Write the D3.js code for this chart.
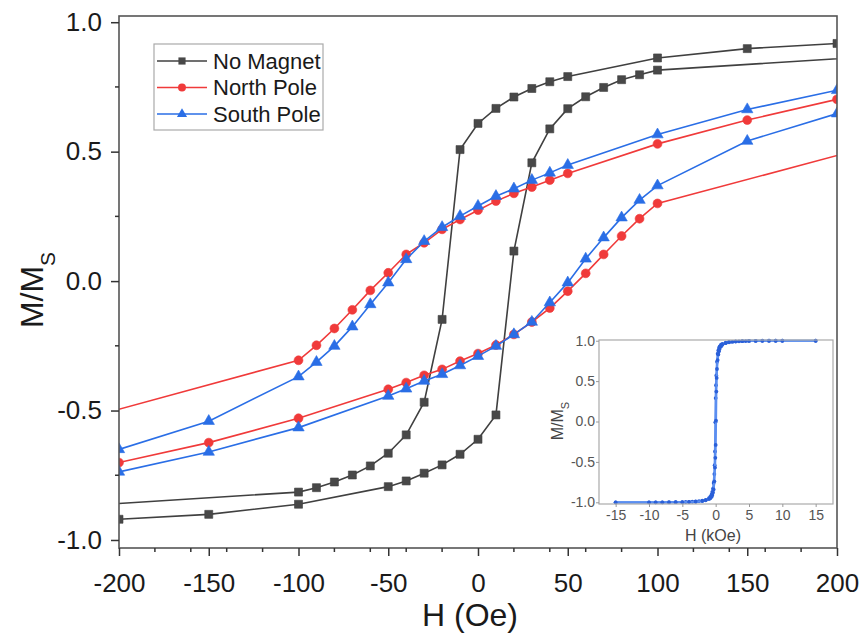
<!DOCTYPE html>
<html><head><meta charset="utf-8">
<script src="https://cdn.jsdelivr.net/npm/d3@7"></script>
<style>
html,body{margin:0;padding:0;background:#fff;}
text{font-family:"Liberation Sans",Arial,sans-serif;}
</style></head>
<body>
<svg id="c" width="863" height="633"></svg>
<script>
// ---------- data (H in Oe, M/Ms) ----------
const noMagDescH = [200,150,100,50,40,30,20,10,0,-10,-20,-30,-40,-50,-60,-70,-80,-90,-100,-500];
const noMagDescM = [0.918,0.898,0.862,0.790,0.770,0.744,0.711,0.667,0.609,0.508,-0.148,-0.468,-0.594,-0.665,-0.714,-0.749,-0.776,-0.798,-0.815,-0.991];
const noMagAscH  = [-200,-150,-100,-50,-40,-30,-20,-10,0,10,20,30,40,50,60,70,80,90,100,500];
const noMagAscM  = [-0.920,-0.901,-0.862,-0.794,-0.772,-0.742,-0.710,-0.669,-0.611,-0.517,0.116,0.457,0.588,0.666,0.712,0.748,0.778,0.797,0.815,0.991];

const northDescH = [200,150,100,50,40,30,20,10,0,-10,-20,-30,-40,-50,-60,-70,-80,-90,-100,-300];
const northDescM = [0.702,0.622,0.530,0.416,0.390,0.363,0.339,0.309,0.274,0.238,0.200,0.148,0.103,0.032,-0.036,-0.111,-0.183,-0.248,-0.306,-0.684];
const northAscH  = [-200,-150,-100,-50,-40,-30,-20,-10,0,10,20,30,40,50,60,70,80,90,100,300];
const northAscM  = [-0.701,-0.624,-0.530,-0.418,-0.392,-0.364,-0.341,-0.309,-0.280,-0.247,-0.206,-0.158,-0.104,-0.039,0.030,0.103,0.174,0.241,0.300,0.670];

const southDescH = [200,150,100,50,40,30,20,10,0,-10,-20,-30,-40,-50,-60,-70,-80,-90,-100,-150,-200];
const southDescM = [0.737,0.663,0.566,0.448,0.418,0.390,0.357,0.328,0.290,0.251,0.208,0.154,0.084,-0.006,-0.090,-0.176,-0.251,-0.313,-0.369,-0.541,-0.650];
const southAscH  = [-200,-150,-100,-50,-40,-30,-20,-10,0,10,20,30,40,50,60,70,80,90,100,150,200];
const southAscM  = [-0.737,-0.660,-0.566,-0.444,-0.416,-0.386,-0.360,-0.326,-0.290,-0.251,-0.206,-0.158,-0.083,-0.006,0.086,0.168,0.245,0.313,0.369,0.541,0.647];

// inset (H in kOe)
const insetDescH = [15,10,9,8,7,6,5,4,3,2,1.5,1,0.8,0.6,0.5,0.4,0.3,0.2,0.1,0.05,0,-0.05,-0.1,-0.15,-0.2,-0.3,-0.4,-0.5,-0.6,-0.8,-1,-1.5,-2,-2.5,-3,-3.5,-4,-4.5,-5,-6,-7,-8,-9,-10,-15];
const insetDescM = [1.0,1.0,1.0,1.0,1.0,0.999,0.998,0.996,0.993,0.985,0.975,0.96,0.95,0.93,0.91,0.88,0.84,0.74,0.57,0.45,0.29,-0.01,-0.37,-0.54,-0.65,-0.76,-0.83,-0.87,-0.90,-0.93,-0.95,-0.97,-0.98,-0.985,-0.99,-0.993,-0.995,-0.996,-0.997,-0.998,-0.999,-1.0,-1.0,-1.0,-1.0];
const insetAscH  = [-15,-10,-9,-8,-7,-6,-5,-4,-3,-2,-1.5,-1,-0.8,-0.6,-0.5,-0.4,-0.3,-0.2,-0.1,-0.05,0,0.05,0.1,0.15,0.2,0.3,0.4,0.5,0.6,0.8,1,1.5,2,2.5,3,3.5,4,4.5,5,6,7,8,9,10,15];
const insetAscM  = [-1.0,-1.0,-1.0,-1.0,-1.0,-0.999,-0.998,-0.996,-0.993,-0.985,-0.975,-0.96,-0.95,-0.93,-0.91,-0.88,-0.84,-0.74,-0.57,-0.45,-0.29,0.01,0.37,0.54,0.65,0.76,0.83,0.87,0.90,0.93,0.95,0.97,0.98,0.985,0.99,0.993,0.995,0.996,0.997,0.998,0.999,1.0,1.0,1.0,1.0];

const seriesNames = ["No Magnet","North Pole","South Pole"];
const xTicks = [-200,-150,-100,-50,0,50,100,150,200];
const yTicks = [-1.0,-0.5,0.0,0.5,1.0];
const insetXTicks = [-15,-10,-5,0,5,10,15];
const insetYTicks = [-1.0,-0.5,0.0,0.5,1.0];

// ---------- chart ----------
const svg = d3.select("#c");
const L=119,R=837,T=16,B=548;
const x = d3.scaleLinear().domain([-200,200]).range([L,R]);
const y = d3.scaleLinear().domain([-1.031,1.024]).range([B,T]);

const series = [
  {name:seriesNames[0], color:"#404040", fill:"#484848", sym:d3.symbolSquare, size:64,
   branches:[[noMagDescH,noMagDescM],[noMagAscH,noMagAscM]]},
  {name:seriesNames[1], color:"#f03a3a", fill:"#f03a3a", sym:d3.symbolCircle, size:62,
   branches:[[northDescH,northDescM],[northAscH,northAscM]]},
  {name:seriesNames[2], color:"#2a6ee6", fill:"#2a6ee6", sym:d3.symbolTriangle, size:56,
   branches:[[southDescH,southDescM],[southAscH,southAscM]]}
];

svg.append("defs").append("clipPath").attr("id","clipMain")
  .append("rect").attr("x",L).attr("y",T).attr("width",R-L).attr("height",B-T);

const line = d3.line().x(d=>x(d[0])).y(d=>y(d[1]));
const plot = svg.append("g").attr("clip-path","url(#clipMain)");
series.forEach(s=>{
  s.branches.forEach(([hs,ms])=>{
    const pts = hs.map((h,i)=>[h,ms[i]]);
    plot.append("path").attr("d",line(pts)).attr("fill","none")
      .attr("stroke",s.color).attr("stroke-width",1.6);
    plot.selectAll(null).data(pts).enter().append("path")
      .attr("d",d3.symbol().type(s.sym).size(s.size)())
      .attr("transform",d=>`translate(${x(d[0])},${y(d[1])})`)
      .attr("fill",s.fill).attr("stroke",s.color).attr("stroke-width",0.6);
  });
});

// frame
svg.append("rect").attr("x",L).attr("y",T).attr("width",R-L).attr("height",B-T)
  .attr("fill","none").attr("stroke","#555").attr("stroke-width",1.6);

// axes
const xAxis = d3.axisBottom(x).tickValues(xTicks).tickSizeInner(8).tickSizeOuter(0).tickPadding(18).tickFormat(d3.format("d"));
const gx = svg.append("g").attr("transform",`translate(0,${B})`).call(xAxis);
const yAxis = d3.axisLeft(y).tickValues(yTicks).tickSizeInner(8).tickSizeOuter(0).tickPadding(9).tickFormat(d3.format(".1f"));
const gy = svg.append("g").attr("transform",`translate(${L},0)`).call(yAxis);
[gx,gy].forEach(g=>{
  g.select(".domain").remove();
  g.selectAll(".tick line").attr("stroke","#333").attr("stroke-width",1.5);
  g.selectAll(".tick text").attr("fill","#1a1a1a").style("font-size","26px")
    .style("font-family","'Liberation Sans',Arial,sans-serif");
});
gy.selectAll(".tick text").text(d=>d3.format(".1f")(d).replace("−","-"));
gx.selectAll(".tick text").text(d=>String(d));
// minor ticks
const xMinor = x.ticks(16).filter(v=>!xTicks.includes(v));
svg.append("g").selectAll("line").data(xMinor).enter().append("line")
  .attr("x1",d=>x(d)).attr("x2",d=>x(d)).attr("y1",B).attr("y2",B+4)
  .attr("stroke","#333").attr("stroke-width",1.5);
const yMinor = [-0.75,-0.25,0.25,0.75];
svg.append("g").selectAll("line").data(yMinor).enter().append("line")
  .attr("y1",d=>y(d)).attr("y2",d=>y(d)).attr("x1",L).attr("x2",L-4)
  .attr("stroke","#333").attr("stroke-width",1.5);

// axis labels
svg.append("text").attr("x",470).attr("y",626).attr("text-anchor","middle")
  .attr("fill","#1a1a1a").style("font-size","32px").text("H (Oe)");
const yl = svg.append("text").attr("transform","translate(43,290) rotate(-90)")
  .attr("text-anchor","middle").attr("fill","#1a1a1a").style("font-size","32px");
yl.append("tspan").text("M/M");
yl.append("tspan").attr("baseline-shift","sub").style("font-size","21px").text("S");

// legend
const lg = svg.append("g");
lg.append("rect").attr("x",154).attr("y",44).attr("width",169).attr("height",86)
  .attr("fill","#fff").attr("stroke","#aaa").attr("stroke-width",1.2);
series.forEach((s,i)=>{
  const cy = 61 + i*26.5;
  lg.append("line").attr("x1",157).attr("x2",207).attr("y1",cy).attr("y2",cy)
    .attr("stroke",s.color).attr("stroke-width",1.6);
  lg.append("path").attr("d",d3.symbol().type(s.sym).size(s.size*0.8)())
    .attr("transform",`translate(182,${cy})`).attr("fill",s.fill);
  lg.append("text").attr("x",213).attr("y",cy+7.5).attr("fill","#1a1a1a")
    .style("font-size","22px").text(s.name);
});

// ---------- inset ----------
const iL=599,iR=833,iT=340,iB=504;
const ix = d3.scaleLinear().domain([-17.5,17.6]).range([iL,iR]);
const iy = d3.scaleLinear().domain([-1.021,1.009]).range([iB,iT]);
svg.append("rect").attr("x",iL).attr("y",iT).attr("width",iR-iL).attr("height",iB-iT)
  .attr("fill","#fff");
svg.append("defs").append("clipPath").attr("id","clipInset")
  .append("rect").attr("x",iL).attr("y",iT-3).attr("width",iR-iL).attr("height",iB-iT+6);
const ip = svg.append("g").attr("clip-path","url(#clipInset)");
const iline = d3.line().x(d=>ix(d[0])).y(d=>iy(d[1]));
[[insetDescH,insetDescM],[insetAscH,insetAscM]].forEach(([hs,ms])=>{
  const pts = hs.map((h,i)=>[h,ms[i]]);
  ip.append("path").attr("d",iline(pts)).attr("fill","none")
    .attr("stroke","#5b8ef0").attr("stroke-width",2.2);
  ip.selectAll(null).data(pts).enter().append("circle")
    .attr("cx",d=>ix(d[0])).attr("cy",d=>iy(d[1])).attr("r",1.9)
    .attr("fill","#2a5fd8");
});
svg.append("rect").attr("x",iL).attr("y",iT).attr("width",iR-iL).attr("height",iB-iT)
  .attr("fill","none").attr("stroke","#aaa").attr("stroke-width",1.2);
const ixAxis = d3.axisBottom(ix).tickValues(insetXTicks).tickSizeInner(3).tickSizeOuter(0).tickPadding(3);
const gix = svg.append("g").attr("transform",`translate(0,${iB})`).call(ixAxis);
const iyAxis = d3.axisLeft(iy).tickValues(insetYTicks).tickSizeInner(3).tickSizeOuter(0).tickPadding(1).tickFormat(d3.format(".1f"));
const giy = svg.append("g").attr("transform",`translate(${iL},0)`).call(iyAxis);
[gix,giy].forEach(g=>{
  g.select(".domain").remove();
  g.selectAll(".tick line").attr("stroke","#999").attr("stroke-width",1);
  g.selectAll(".tick text").attr("fill","#555").style("font-size","14px")
    .style("font-family","'Liberation Sans',Arial,sans-serif");
});
giy.selectAll(".tick text").text(d=>d3.format(".1f")(d).replace("−","-"));
gix.selectAll(".tick text").text(d=>String(d));
svg.append("text").attr("x",713).attr("y",541).attr("text-anchor","middle")
  .attr("fill","#444").style("font-size","16px").text("H (kOe)");
const iyl = svg.append("text").attr("transform","translate(563,421) rotate(-90)")
  .attr("text-anchor","middle").attr("fill","#444").style("font-size","16px");
iyl.append("tspan").text("M/M");
iyl.append("tspan").attr("baseline-shift","sub").style("font-size","11px").text("S");
</script>
</body></html>
